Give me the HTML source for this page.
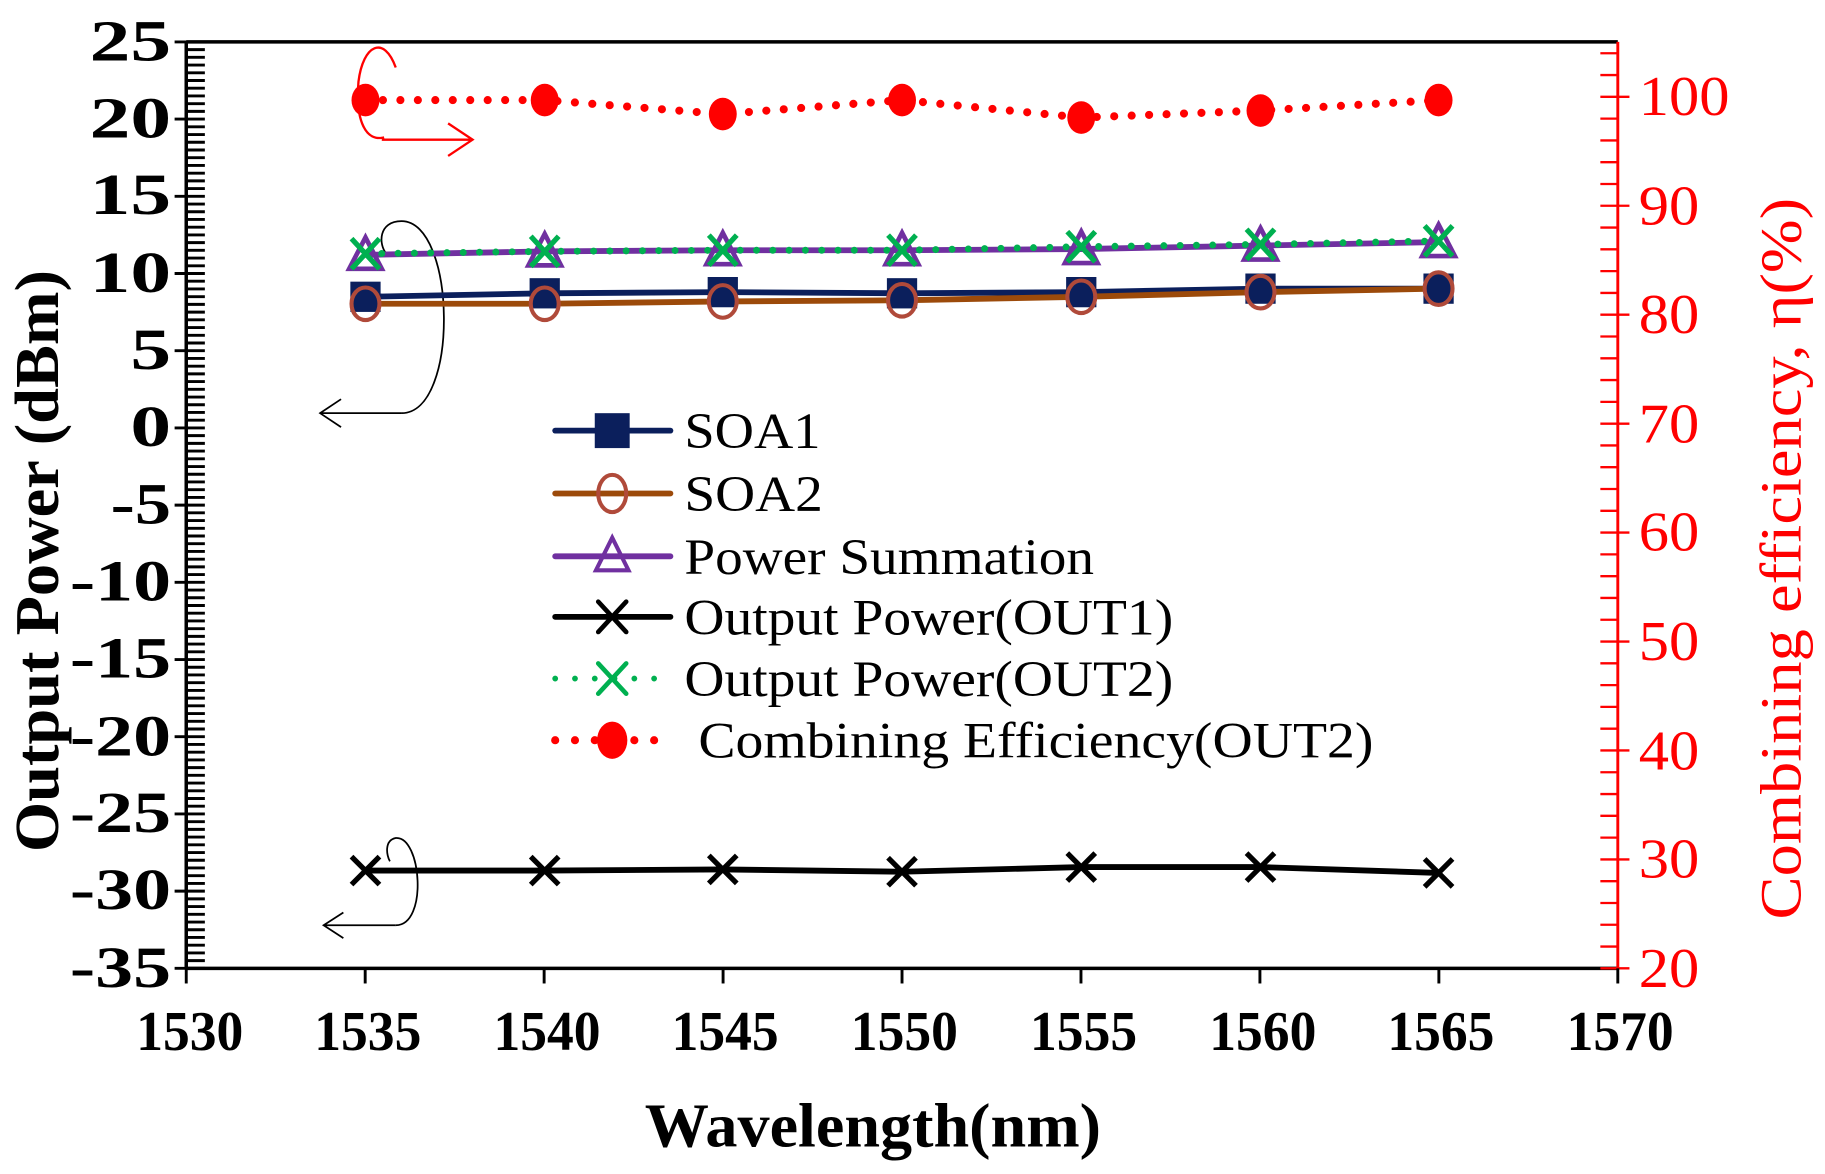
<!DOCTYPE html>
<html><head><meta charset="utf-8"><style>html,body{margin:0;padding:0;background:#fff}svg{display:block}</style></head>
<body>
<svg width="1825" height="1174" viewBox="0 0 1568 1008.7" xmlns="http://www.w3.org/2000/svg" font-family="Liberation Serif, serif">
<g stroke="#000" stroke-width="3" fill="none">
<line x1="160" y1="36" x2="1390" y2="36"/>
<line x1="160" y1="832" x2="1390" y2="832"/>
<line x1="160" y1="36" x2="160" y2="832"/>
</g>
<g id="lt" stroke="#000" stroke-width="2.5"></g>
<g id="rt" stroke="#f00" stroke-width="2"></g>
<line x1="1390" y1="36" x2="1390" y2="832" stroke="#f00" stroke-width="2.5"/>
<g id="bt" stroke="#000" stroke-width="2.5"></g>
<g font-weight="bold" font-size="50" text-anchor="end" fill="#000" lengthAdjust="spacingAndGlyphs">
<text x="147" y="52" textLength="70" lengthAdjust="spacingAndGlyphs">25</text><text x="147" y="118" textLength="70" lengthAdjust="spacingAndGlyphs">20</text><text x="147" y="184" textLength="70" lengthAdjust="spacingAndGlyphs">15</text><text x="147" y="251" textLength="70" lengthAdjust="spacingAndGlyphs">10</text><text x="147" y="317" textLength="35" lengthAdjust="spacingAndGlyphs">5</text><text x="147" y="383" textLength="35" lengthAdjust="spacingAndGlyphs">0</text><text x="147" y="450" textLength="52" lengthAdjust="spacingAndGlyphs">-5</text><text x="147" y="516" textLength="87" lengthAdjust="spacingAndGlyphs">-10</text><text x="147" y="582" textLength="87" lengthAdjust="spacingAndGlyphs">-15</text><text x="147" y="649" textLength="87" lengthAdjust="spacingAndGlyphs">-20</text><text x="147" y="715" textLength="87" lengthAdjust="spacingAndGlyphs">-25</text><text x="147" y="781" textLength="87" lengthAdjust="spacingAndGlyphs">-30</text><text x="147" y="848" textLength="87" lengthAdjust="spacingAndGlyphs">-35</text>
</g>
<g font-weight="bold" font-size="48" text-anchor="middle" fill="#000">
<text x="163" y="902" textLength="92" lengthAdjust="spacingAndGlyphs">1530</text><text x="316" y="902" textLength="92" lengthAdjust="spacingAndGlyphs">1535</text><text x="470" y="902" textLength="92" lengthAdjust="spacingAndGlyphs">1540</text><text x="623" y="902" textLength="92" lengthAdjust="spacingAndGlyphs">1545</text><text x="777" y="902" textLength="92" lengthAdjust="spacingAndGlyphs">1550</text><text x="931" y="902" textLength="92" lengthAdjust="spacingAndGlyphs">1555</text><text x="1085" y="902" textLength="92" lengthAdjust="spacingAndGlyphs">1560</text><text x="1238" y="902" textLength="92" lengthAdjust="spacingAndGlyphs">1565</text><text x="1392" y="902" textLength="92" lengthAdjust="spacingAndGlyphs">1570</text>
</g>
<text x="750" y="985" font-weight="bold" font-size="54" text-anchor="middle" textLength="392" lengthAdjust="spacingAndGlyphs">Wavelength(nm)</text>
<text transform="translate(50,482) rotate(-90)" font-weight="bold" font-size="54" text-anchor="middle" textLength="500" lengthAdjust="spacingAndGlyphs">Output Power (dBm)</text>
<g font-size="48" fill="#f00">
<text x="1408" y="99" textLength="78" lengthAdjust="spacingAndGlyphs">100</text><text x="1408" y="193" textLength="52" lengthAdjust="spacingAndGlyphs">90</text><text x="1408" y="286" textLength="52" lengthAdjust="spacingAndGlyphs">80</text><text x="1408" y="380" textLength="52" lengthAdjust="spacingAndGlyphs">70</text><text x="1408" y="473" textLength="52" lengthAdjust="spacingAndGlyphs">60</text><text x="1408" y="567" textLength="52" lengthAdjust="spacingAndGlyphs">50</text><text x="1408" y="661" textLength="52" lengthAdjust="spacingAndGlyphs">40</text><text x="1408" y="754" textLength="52" lengthAdjust="spacingAndGlyphs">30</text><text x="1408" y="848" textLength="52" lengthAdjust="spacingAndGlyphs">20</text>
</g>
<text transform="translate(1547,480) rotate(-90)" font-size="50" fill="#f00" text-anchor="middle" textLength="620" lengthAdjust="spacingAndGlyphs">Combining efficiency, η(%)</text>

<!-- annotations -->
<g fill="none" stroke-width="2">
<path d="M340,58 C330,30 312,38 308,70 C305,105 315,122 330,118" stroke="#f00"/>
<path d="M328,120 L404,120 M385,106 L406,120 L385,134" stroke="#f00"/>
<path d="M345,355 C395,355 392,190 345,190 C325,190 325,210 332,218" stroke="#000" stroke-width="1.5"/>
<path d="M345,355 L275,355 M293,343 L275,355 L293,367" stroke="#000" stroke-width="1.5"/>
<path d="M340,795 C368,795 362,718 340,720 C330,722 332,735 335,740" stroke="#000" stroke-width="1.5"/>
<path d="M340,795 L278,795 M295,784 L278,795 L295,806" stroke="#000" stroke-width="1.5"/>
</g>

<!-- series -->
<polyline points="314,748 468,748 621,747 775,749 929,745 1083,745 1236,750" fill="none" stroke="#000" stroke-width="5"/>
<polyline points="314,255 468,252 621,251 775,252 929,251 1083,248 1236,248" fill="none" stroke="#0b1f5c" stroke-width="5"/>
<polyline points="314,261 468,261 621,259 775,258 929,255 1083,251 1236,248" fill="none" stroke="#9c4a0a" stroke-width="5"/>
<polyline points="314,219 468,216 621,215 775,215 929,214 1083,211 1236,208" fill="none" stroke="#7030a0" stroke-width="5"/>
<polyline points="314,218 468,216 621,215 775,215 929,212 1083,210 1236,207" fill="none" stroke="#00b050" stroke-width="6" stroke-dasharray="0 14" stroke-linecap="round"/>
<polyline points="314,86 468,86 621,98 775,86 929,101 1083,95 1236,86" fill="none" stroke="#f00" stroke-width="7" stroke-dasharray="0 15" stroke-linecap="round"/>
<g id="mk"></g>

<!-- legend -->
<g stroke-width="5" stroke-linecap="round">
<line x1="477" y1="370" x2="576" y2="370" stroke="#0b1f5c"/>
<rect x="511" y="355" width="30" height="30" fill="#0b1f5c" stroke="none"/>
<line x1="477" y1="424" x2="576" y2="424" stroke="#9c4a0a"/>
<ellipse cx="526" cy="424" rx="12" ry="16" fill="none" stroke="#b04a3a" stroke-width="3.5"/>
<line x1="477" y1="478" x2="576" y2="478" stroke="#7030a0"/>
<path d="M526,462 L540,490 L512,490 Z" fill="none" stroke="#7030a0" stroke-width="3.5"/>
<line x1="477" y1="530" x2="576" y2="530" stroke="#000"/>
<path d="M514,517 L538,543 M538,517 L514,543" stroke="#000" stroke-width="4"/>
<line x1="477" y1="583" x2="576" y2="583" stroke="#00b050" stroke-dasharray="0 17"/>
<path d="M514,570 L538,596 M538,570 L514,596" stroke="#00b050" stroke-width="4"/>
<line x1="477" y1="636" x2="576" y2="636" stroke="#f00" stroke-width="7" stroke-dasharray="0 17"/>
<ellipse cx="526" cy="636" rx="13" ry="16" fill="#f00" stroke="none"/>
</g>
<g font-size="44" fill="#000">
<text x="588" y="385" textLength="117" lengthAdjust="spacingAndGlyphs">SOA1</text><text x="588" y="439" textLength="119" lengthAdjust="spacingAndGlyphs">SOA2</text><text x="588" y="493" textLength="352" lengthAdjust="spacingAndGlyphs">Power Summation</text><text x="588" y="545" textLength="420" lengthAdjust="spacingAndGlyphs">Output Power(OUT1)</text><text x="588" y="598" textLength="420" lengthAdjust="spacingAndGlyphs">Output Power(OUT2)</text><text x="600" y="651" textLength="580" lengthAdjust="spacingAndGlyphs">Combining Efficiency(OUT2)</text>
</g>
<script>
var ns="http://www.w3.org/2000/svg";
function ln(g,x1,y1,x2,y2){var l=document.createElementNS(ns,"line");l.setAttribute("x1",x1);l.setAttribute("y1",y1);l.setAttribute("x2",x2);l.setAttribute("y2",y2);document.getElementById(g).appendChild(l);}
for(var i=0;i<=120;i++){var y=36+i*796/120;if(i%10==0)ln("lt",150,y,176,y);else ln("lt",160,y,176,y);}
for(var i=0;i<=42;i++){var y=832-i*2*9.36;if(y<36)break;if(i%5==0)ln("rt",1375,y,1400,y);else ln("rt",1375,y,1390,y);}
for(var i=0;i<=8;i++){var x=160+i*153.75;ln("bt",x,832,x,845);}
var xs=[314,468,621,775,929,1083,1236];
var mk=document.getElementById("mk");
function el(t,a){var e=document.createElementNS(ns,t);for(var k in a)e.setAttribute(k,a[k]);mk.appendChild(e);return e;}
var o1=[748,748,747,749,745,745,750],s1=[255,252,251,252,251,248,248],s2=[261,261,259,258,255,251,248],ps=[219,216,215,215,214,211,208],o2=[218,216,215,215,212,210,207],ef=[86,86,98,86,101,95,86];
xs.forEach(function(x,i){
el("path",{d:"M"+(x-12)+","+(o1[i]-12)+"L"+(x+12)+","+(o1[i]+12)+"M"+(x+12)+","+(o1[i]-12)+"L"+(x-12)+","+(o1[i]+12),stroke:"#000","stroke-width":4.5,fill:"none"});
el("rect",{x:x-13,y:s1[i]-13,width:26,height:26,fill:"#0b1f5c"});
el("ellipse",{cx:x,cy:s2[i],rx:12,ry:14,fill:"none",stroke:"#b04a3a","stroke-width":3.5});
el("path",{d:"M"+x+","+(ps[i]-15)+"L"+(x+14)+","+(ps[i]+12)+"L"+(x-14)+","+(ps[i]+12)+"Z",fill:"none",stroke:"#7030a0","stroke-width":4});
el("path",{d:"M"+(x-12)+","+(o2[i]-13)+"L"+(x+12)+","+(o2[i]+13)+"M"+(x+12)+","+(o2[i]-13)+"L"+(x-12)+","+(o2[i]+13),stroke:"#00b050","stroke-width":4.5,fill:"none"});
el("ellipse",{cx:x,cy:ef[i],rx:12,ry:14,fill:"#f00"});
});
</script>
</svg>
</body></html>
